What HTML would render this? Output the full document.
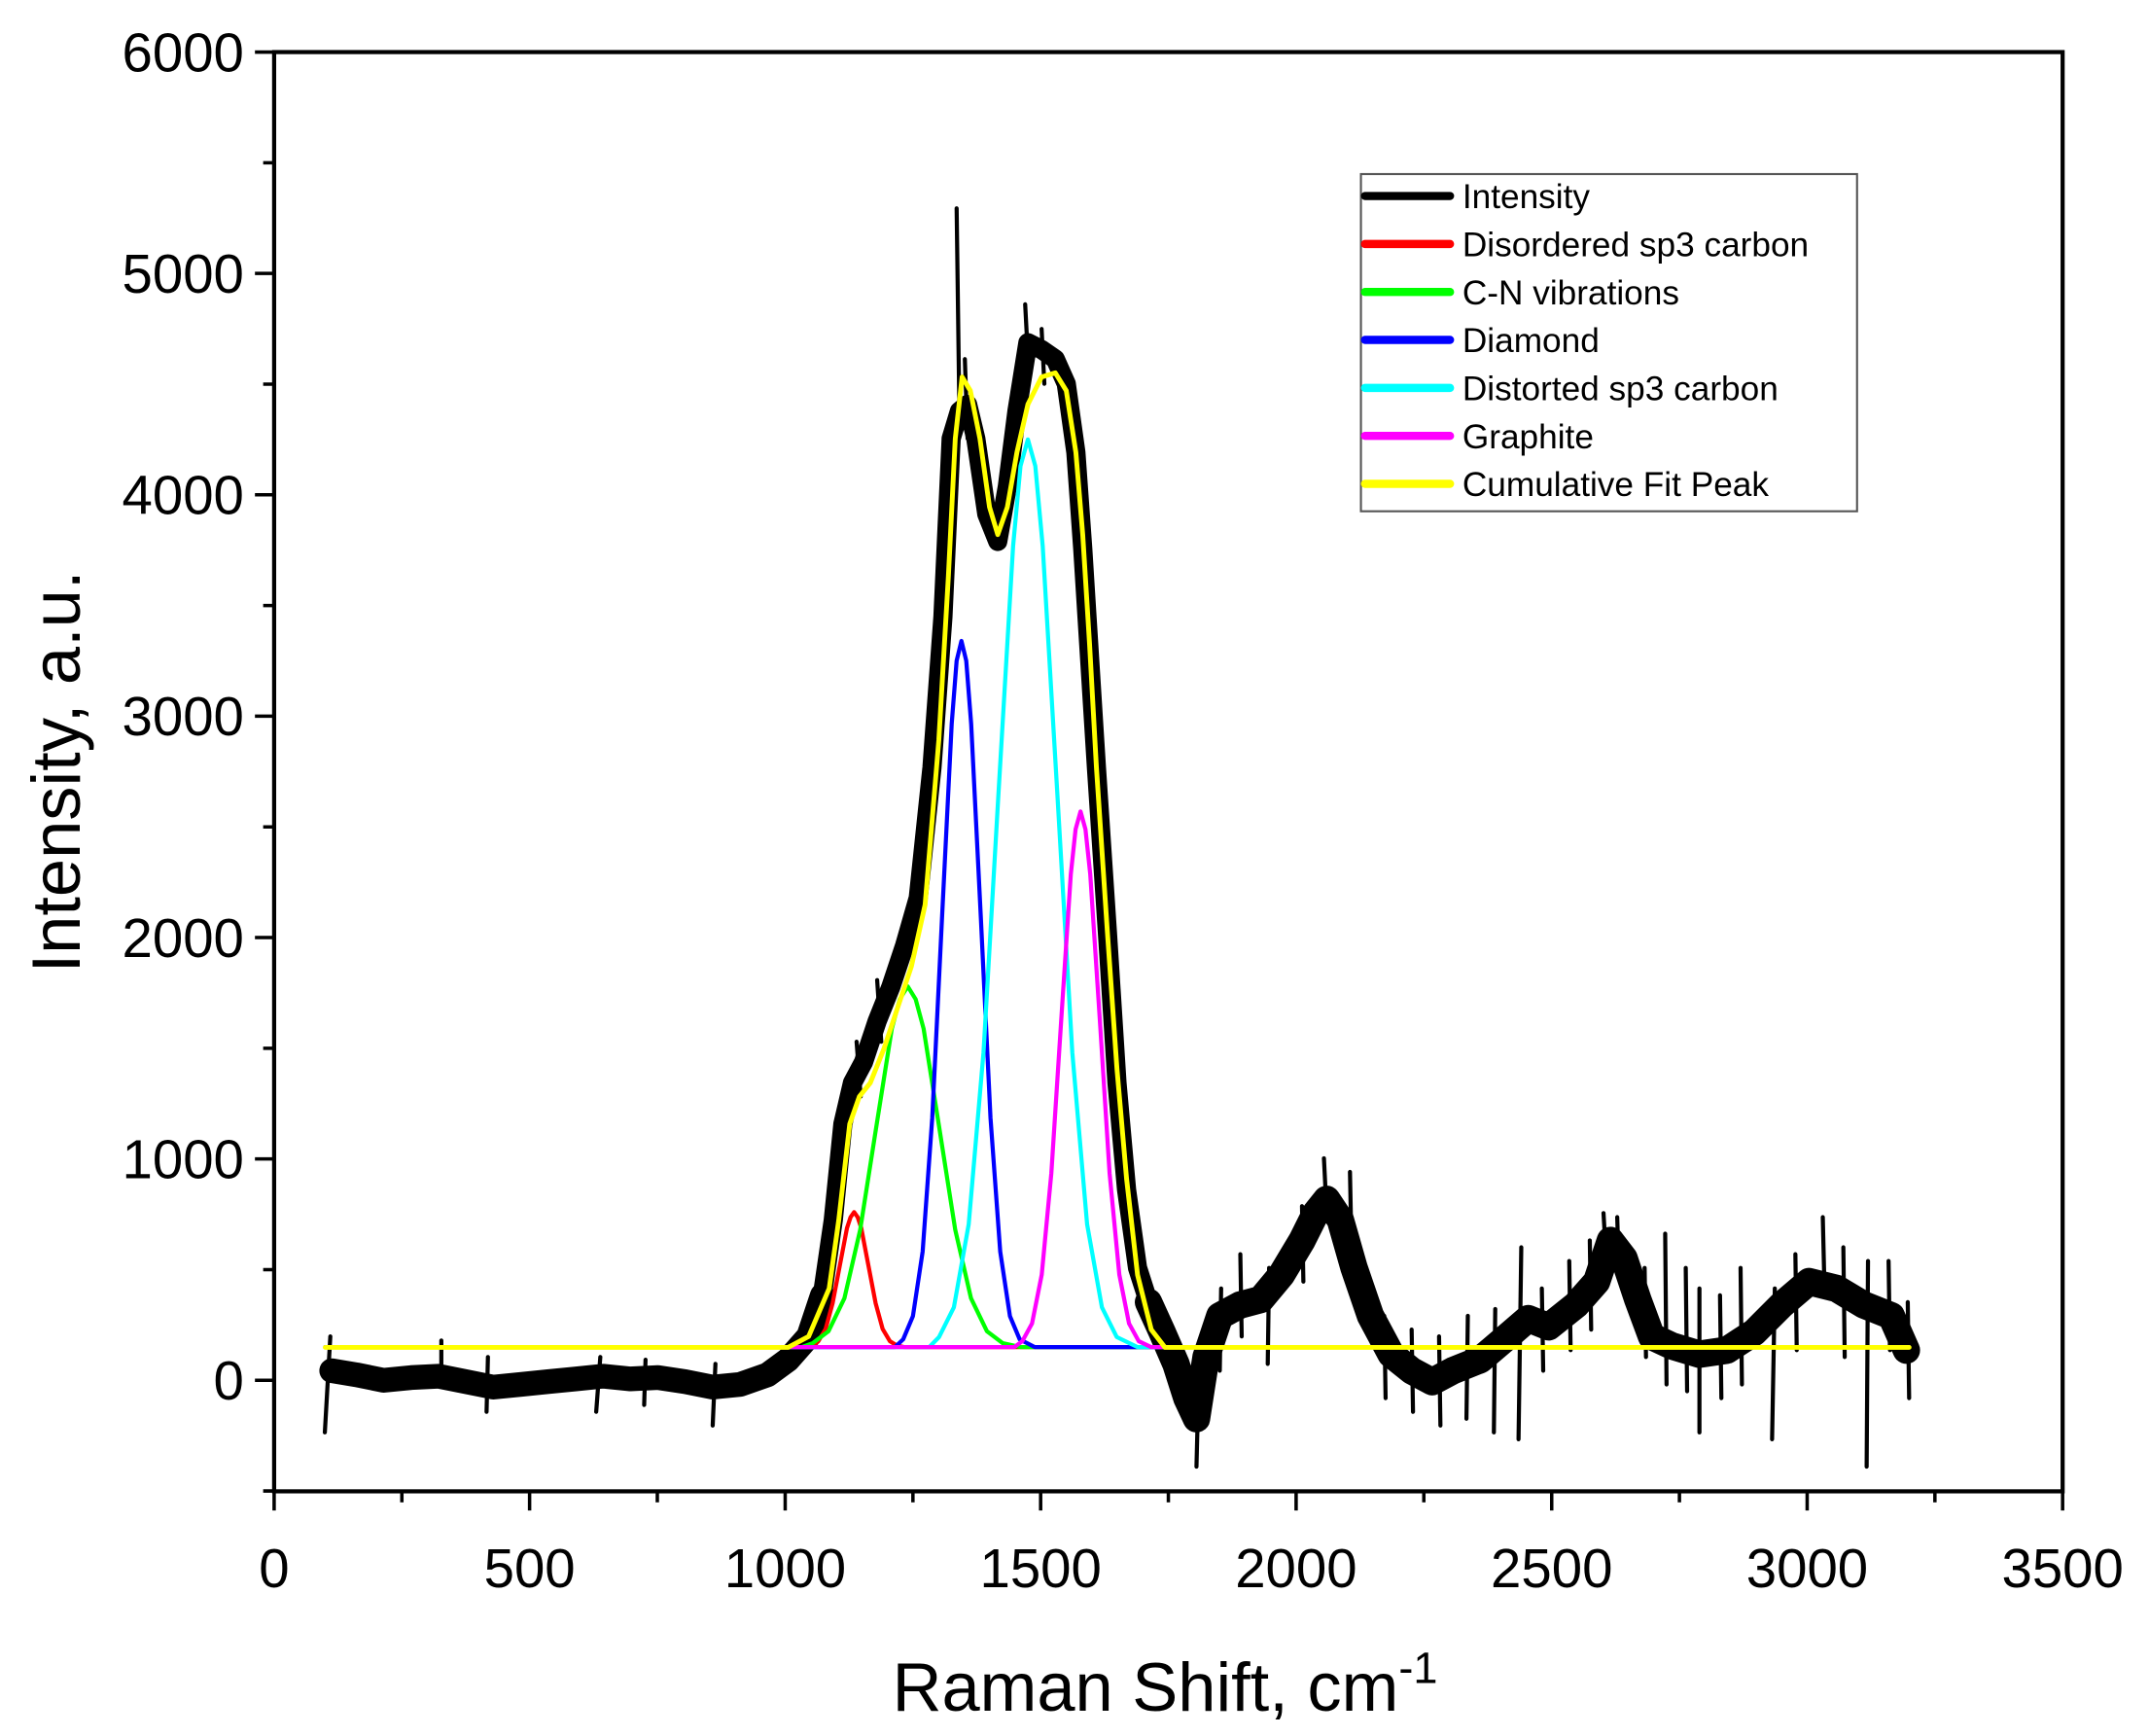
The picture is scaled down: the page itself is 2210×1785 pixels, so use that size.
<!DOCTYPE html>
<html><head><meta charset="utf-8"><style>
html,body{margin:0;padding:0;background:#fff;}
svg{display:block;}
text{font-family:"Liberation Sans",Arial,sans-serif;fill:#000;}
</style></head><body>
<svg width="2210" height="1785" viewBox="0 0 1568 1266.5" xmlns="http://www.w3.org/2000/svg">
<g fill="none" stroke-linejoin="round" stroke-linecap="round">
<!-- black intensity band -->
<path stroke="#000" stroke-width="18" d="M242 1000 L260 1003 L280 1007 L300 1005 L320 1004 L340 1008 L360 1012 L380 1010 L400 1008 L420 1006 L440 1004 L460 1006 L480 1005 L500 1008 L520 1012 L540 1010 L560 1003 L575 992 L590 975 L600 945"/>
<path stroke="#000" stroke-width="14" d="M600 945 L608 890 L615 820 L622 790 L630 775 L640 745 L650 720 L660 690 L670 655 L680 560 L688 450 L694 320 L700 300 L706 295 L712 320 L720 375 L728 395 L735 355 L742 300 L750 250 L760 255 L770 262 L778 280 L785 330 L790 400 L795 480 L800 560 L808 680 L815 790 L822 868 L830 925 L838 950"/>
<path stroke="#000" stroke-width="20" d="M838 950 L848 972 L858 995 L866 1020 L873 1035 L880 990 L890 960 L905 952 L920 948 L935 930 L950 905 L960 885 L968 875 L978 890 L988 925 L1000 960 L1015 988 L1030 1000 L1045 1008 L1060 1000 L1080 992 L1100 975 L1115 962 L1130 968 L1150 952 L1165 935 L1175 905 L1185 918 L1195 948 L1205 975 L1220 982 L1240 988 L1260 985 L1280 972 L1300 952 L1320 935 L1340 940 L1360 952 L1380 960 L1391 985"/>
<!-- spikes -->
<path stroke="#000" stroke-width="3" d="M237 1045 L241 975 M322 1007 L322 978 M355 1030 L356 990 M435 1030 L438 990 M470 1025 L471 992 M520 1040 L522 995 M625 760 L628 800 M640 715 L643 760 M698 152 L700 300 M704 262 L706 320 M748 222 L750 260 M760 240 L762 280 M873 1070 L874 1030 M890 1000 L891 940 M905 915 L906 975 M925 995 L926 925 M950 880 L951 935 M966 845 L968 885 M985 855 L986 905 M1010 960 L1011 1020 M1030 970 L1031 1030 M1050 975 L1051 1040 M1070 1035 L1071 960 M1090 1045 L1091 955 M1108 1050 L1110 910 M1125 940 L1126 1000 M1145 920 L1146 985 M1160 905 L1161 970 M1170 885 L1172 920 M1180 888 L1181 920 M1200 925 L1201 990 M1215 900 L1216 1010 M1230 925 L1231 1015 M1240 1045 L1240 940 M1255 945 L1256 1020 M1270 925 L1271 1010 M1293 1050 L1295 940 M1310 915 L1311 985 M1330 888 L1331 930 M1345 910 L1346 990 M1362 1070 L1363 920 M1378 920 L1379 985 M1393 1020 L1392 950"/>
<!-- components -->
<path stroke="#f00" stroke-width="3" d="M237.3 982.8 L591.9 982.8 L597.1 978.5 L602.4 969.5 L607.5 950.8 L612.8 923.1 L618 895.9 L620.6 888 L623.2 884.3 L625.8 888 L628.4 895.9 L633.6 923.1 L638.9 950.8 L644 969.5 L649.3 978.5 L654.5 981.7 L660 982.8 L1393 982.8"/>
<path stroke="#0f0" stroke-width="3" d="M237.3 982.8 L585 982.8 L593 979.9 L604.5 971.2 L616.1 947.2 L627.6 897.3 L639.2 823.2 L650.7 750.5 L656.5 729 L662.3 719.6 L668.1 729 L673.9 750.5 L685.4 823.2 L697 897.3 L708.5 947.2 L720.1 971.2 L731.6 979.9 L745 982.8 L1393 982.8"/>
<path stroke="#00f" stroke-width="3" d="M237.3 982.8 L653 982.8 L659 977.1 L666.1 960.2 L673.2 913.1 L680.2 815.5 L687.3 670.3 L694.4 528.1 L698 482 L701.5 467.6 L705 482 L708.6 528.1 L715.7 670.3 L722.7 815.5 L729.8 913.1 L736.9 960.2 L744 977.1 L755 982.8 L1393 982.8"/>
<path stroke="#0ff" stroke-width="3" d="M237.3 982.8 L678 982.8 L685.2 975.4 L696 953.7 L706.8 893.2 L717.6 767.8 L728.4 581.2 L739.2 398.4 L744.6 340 L750 320.6 L755.4 340 L760.8 398.4 L771.6 581.2 L782.4 767.8 L793.2 893.2 L804 953.7 L814.8 975.4 L830 982.8 L1393 982.8"/>
<path stroke="#f0f" stroke-width="3" d="M237.3 982.8 L740 982.8 L745.9 978.5 L753 965.6 L760.1 929.9 L767.1 855.9 L774.2 745.8 L781.3 637.9 L784.8 605 L788.4 592 L792 605 L795.5 637.9 L802.6 745.8 L809.6 855.9 L816.7 929.9 L823.8 965.6 L830.9 978.5 L840 982.8 L1393 982.8"/>
<path stroke="#ff0" stroke-width="3.5" d="M237.3 983 L575 983 L590 975 L605 940 L612 890 L620 820 L627 800 L635 790 L645 765 L655 735 L665 705 L675 660 L685 540 L692 420 L697 320 L702 275 L708 285 L715 320 L722 370 L728 390 L735 370 L742 330 L750 295 L760 275 L770 272 L778 285 L785 330 L790 390 L795 470 L800 560 L808 680 L815 780 L822 860 L830 930 L840 970 L850 983 L1393 983"/>
</g>
<rect x="200" y="38" width="1305" height="1050" fill="none" stroke="#000" stroke-width="3"/>
<g stroke="#000" stroke-width="2.5">
<path d="M200 1088v14M293.2 1088v8M386.4 1088v14M479.6 1088v8M572.9 1088v14M666.1 1088v8M759.3 1088v14M852.5 1088v8M945.7 1088v14M1038.9 1088v8M1132.2 1088v14M1225.4 1088v8M1318.6 1088v14M1411.8 1088v8M1505 1088v14"/>
<path d="M200 1087.75h-8M200 1007h-14M200 926.25h-8M200 845.5h-14M200 764.75h-8M200 684h-14M200 603.25h-8M200 522.5h-14M200 441.75h-8M200 361h-14M200 280.25h-8M200 199.5h-14M200 118.75h-8M200 38h-14"/>
</g>
<g font-size="40" text-anchor="end">
<text x="178" y="1021">0</text><text x="178" y="859.5">1000</text><text x="178" y="698">2000</text><text x="178" y="536.5">3000</text><text x="178" y="375">4000</text><text x="178" y="213.5">5000</text><text x="178" y="52">6000</text>
</g>
<g font-size="40" text-anchor="middle">
<text x="200" y="1158">0</text><text x="386.4" y="1158">500</text><text x="572.9" y="1158">1000</text><text x="759.3" y="1158">1500</text><text x="945.7" y="1158">2000</text><text x="1132.2" y="1158">2500</text><text x="1318.6" y="1158">3000</text><text x="1505" y="1158">3500</text>
</g>
<text x="850" y="1248" font-size="50" text-anchor="middle">Raman Shift, cm<tspan dy="-20" font-size="32">-1</tspan></text>
<text transform="translate(58,563) rotate(-90)" font-size="50" text-anchor="middle">Intensity, a.u.</text>
<rect x="993" y="127" width="362" height="246" fill="#fff" stroke="#555" stroke-width="1.5"/>
<g stroke-width="6" stroke-linecap="round">
<line x1="996" y1="143" x2="1058" y2="143" stroke="#000"/>
<line x1="996" y1="178" x2="1058" y2="178" stroke="#f00"/>
<line x1="996" y1="213" x2="1058" y2="213" stroke="#0f0"/>
<line x1="996" y1="248" x2="1058" y2="248" stroke="#00f"/>
<line x1="996" y1="283" x2="1058" y2="283" stroke="#0ff"/>
<line x1="996" y1="318" x2="1058" y2="318" stroke="#f0f"/>
<line x1="996" y1="353" x2="1058" y2="353" stroke="#ff0"/>
</g>
<g font-size="25">
<text x="1067" y="152">Intensity</text>
<text x="1067" y="187">Disordered sp3 carbon</text>
<text x="1067" y="222">C-N vibrations</text>
<text x="1067" y="257">Diamond</text>
<text x="1067" y="292">Distorted sp3 carbon</text>
<text x="1067" y="327">Graphite</text>
<text x="1067" y="362">Cumulative Fit Peak</text>
</g>
</svg>
</body></html>
